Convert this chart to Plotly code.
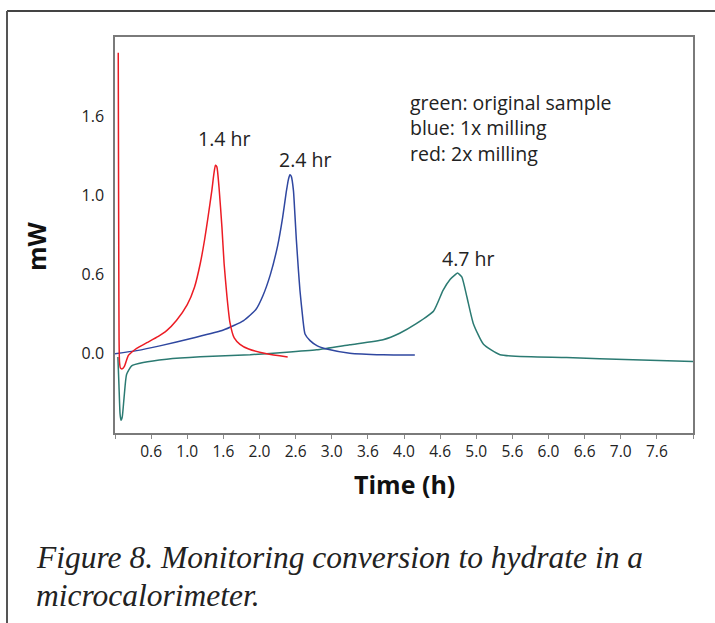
import plotly.graph_objects as go

# ---- data ----
red_time = [0.045, 0.048, 0.052, 0.056, 0.062, 0.075, 0.10, 0.13, 0.16, 0.185, 0.23, 0.30, 0.44, 0.60,
            0.715, 0.85, 1.00, 1.10, 1.18, 1.24, 1.29, 1.34, 1.37, 1.39, 1.41, 1.44, 1.48, 1.51,
            1.55, 1.59, 1.65, 1.73, 1.85, 2.10, 2.39]
red_mw = [1.90, 1.30, 0.60, 0.10, -0.05, -0.09, -0.095, -0.08, -0.04, -0.01, 0.01, 0.035, 0.07, 0.11,
          0.146, 0.21, 0.31, 0.42, 0.57, 0.72, 0.87, 1.03, 1.14, 1.19, 1.18, 1.05, 0.80, 0.57,
          0.36, 0.20, 0.10, 0.06, 0.03, 0.00, -0.02]

blue_time = [0.0, 0.30, 0.62, 1.08, 1.50, 1.78, 1.95, 2.05, 2.15, 2.25, 2.32, 2.37, 2.40, 2.42,
             2.44, 2.47, 2.49, 2.51, 2.54, 2.56, 2.60, 2.63, 2.70, 2.80, 2.93, 3.25, 3.71, 4.15]
blue_mw = [0.0, 0.02, 0.05, 0.10, 0.15, 0.21, 0.28, 0.37, 0.50, 0.68, 0.86, 1.02, 1.10, 1.13,
           1.12, 1.03, 0.88, 0.72, 0.52, 0.40, 0.22, 0.125, 0.083, 0.05, 0.03, 0.004, -0.006, -0.008]

green_time = [0.04, 0.055, 0.07, 0.083, 0.10, 0.125, 0.16, 0.23, 0.39, 0.715, 1.18, 1.87, 2.33, 2.79,
              3.25, 3.71, 3.94, 4.17, 4.41, 4.54, 4.64, 4.71, 4.74, 4.80, 4.87, 4.96, 5.10, 5.33,
              6.25, 7.17, 8.0]
green_mw = [-0.02, -0.20, -0.38, -0.42, -0.40, -0.28, -0.13, -0.076, -0.055, -0.034, -0.019, -0.006,
            0.008, 0.025, 0.057, 0.089, 0.13, 0.19, 0.27, 0.40, 0.47, 0.50, 0.51, 0.485, 0.36, 0.19,
            0.06, -0.006, -0.023, -0.038, -0.049]

x_tickvals = [0.0, 0.5, 1.0, 1.5, 2.0, 2.5, 3.0, 3.5, 4.0, 4.5, 5.0, 5.5, 6.0, 6.5, 7.0, 7.5, 8.0]
x_ticktext = ["", "0.6", "1.0", "1.6", "2.0", "2.6", "3.0", "3.6", "4.0", "4.6", "5.0", "5.6",
              "6.0", "6.6", "7.0", "7.6", ""]
y_tickvals = [0.0, 0.5, 1.0, 1.5]
y_ticktext = ["0.0", "0.6", "1.0", "1.6"]

peak_labels = ["1.4 hr", "2.4 hr", "4.7 hr"]
legend_lines = ["green: original sample", "blue: 1x milling", "red: 2x milling"]
caption_lines = ["Figure 8. Monitoring conversion to hydrate in a", "microcalorimeter."]

# ---- figure ----
W, H = 715, 623
L, R, T, B = 115, 693, 37, 433
pw, ph = R - L, B - T

def px(x):
    return (x - L) / pw

def py(y):
    return (B - y) / ph

SANS = "Open Sans, Lato, sans-serif"
fig = go.Figure()
line_kw = dict(shape="spline", smoothing=0.5, width=1.5)
fig.add_trace(go.Scatter(x=green_time, y=green_mw, mode="lines",
                         line=dict(color="#2b7a72", **line_kw), showlegend=False))
fig.add_trace(go.Scatter(x=blue_time, y=blue_mw, mode="lines",
                         line=dict(color="#2f47a0", **line_kw), showlegend=False))
fig.add_trace(go.Scatter(x=red_time, y=red_mw, mode="lines",
                         line=dict(color="#ec1c24", **line_kw), showlegend=False))

fig.update_xaxes(range=[0, 8], tickvals=x_tickvals, ticktext=x_ticktext, ticks="outside",
                 ticklen=4, tickcolor="#888", showline=True, linecolor="#7a7a7a", linewidth=1.5,
                 mirror=True, showgrid=False, zeroline=False,
                 tickfont=dict(family=SANS, size=15.5, color="#222"))
fig.update_yaxes(range=[-0.5, 2.0], tickvals=y_tickvals, ticktext=y_ticktext, ticks="",
                 showline=True, linecolor="#7a7a7a", linewidth=1.5, mirror=True,
                 showgrid=False, zeroline=False, ticklabelstandoff=6,
                 tickfont=dict(family=SANS, size=16, color="#222"))

ann = []
peak_pos = [(1.51, 1.36), (2.63, 1.227), (4.88, 0.604)]
for txt, (ax_, ay_) in zip(peak_labels, peak_pos):
    ann.append(dict(x=ax_, y=ay_, xref="x", yref="y", text=txt, showarrow=False,
                    font=dict(family=SANS, size=19.5, color="#222")))
for i, txt in enumerate(legend_lines):
    ann.append(dict(x=px(408), y=py(103 + 25 * i), xref="paper", yref="paper", text=txt,
                    showarrow=False, xanchor="left", yanchor="middle",
                    font=dict(family=SANS, size=19.5, color="#222")))
ann.append(dict(x=px(404), y=py(484), xref="paper", yref="paper", text="<b>Time (h)</b>",
                showarrow=False, xanchor="center", yanchor="middle",
                font=dict(family=SANS, size=25, color="#111")))
ann.append(dict(x=px(36), y=py(246), xref="paper", yref="paper", text="<b>mW</b>",
                showarrow=False, textangle=-90, xanchor="center", yanchor="middle",
                font=dict(family=SANS, size=25, color="#111")))
for i, txt in enumerate(caption_lines):
    ann.append(dict(x=px(34), y=py(557 + 38 * i), xref="paper", yref="paper",
                    text="<i>" + txt + "</i>", showarrow=False, xanchor="left", yanchor="middle",
                    font=dict(family="Liberation Serif, serif", size=31.5, color="#222")))

shapes = [
    dict(type="line", xref="paper", yref="paper", x0=px(7), x1=px(716), y0=py(11), y1=py(11),
         line=dict(color="#444", width=2)),
    dict(type="line", xref="paper", yref="paper", x0=px(7), x1=px(7), y0=py(11), y1=py(624),
         line=dict(color="#555", width=2)),
]

fig.update_layout(width=W, height=H, margin=dict(l=L, r=W - R, t=T, b=H - B),
                  paper_bgcolor="white", plot_bgcolor="white", annotations=ann, shapes=shapes)

fig.write_html("out.html", config={"displayModeBar": False},
               post_script="document.body.style.margin='0';document.body.style.overflow='hidden';")
